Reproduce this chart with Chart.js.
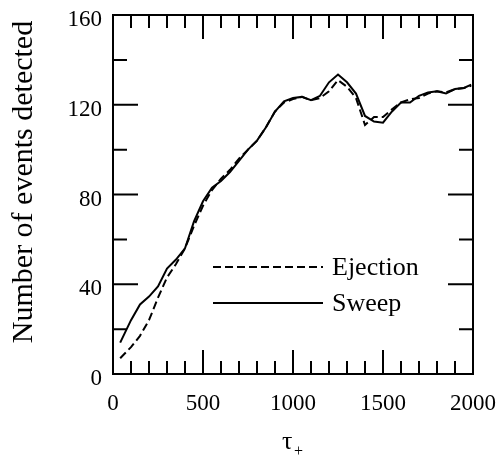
<!DOCTYPE html>
<html>
<head>
<meta charset="utf-8">
<script src="https://cdn.jsdelivr.net/npm/chart.js@4"></script>
<style>
  body { margin: 0; background: #fff; }
  #chart { display: block; }
</style>
</head>
<body>
<canvas id="chart" width="501" height="462"></canvas>
<script>
// tau+ values (x) shared by both curves
const taus = [40, 100, 150, 200, 250, 300, 350, 400, 450, 500,
              550, 600, 650, 700, 750, 800, 850, 900, 950, 1000,
              1050, 1100, 1150, 1200, 1250, 1300, 1350, 1400, 1450, 1500,
              1550, 1600, 1650, 1700, 1750, 1800, 1850, 1900, 1950, 1990];

// number of events detected
const ejection = [7, 12, 17, 24, 34, 43, 49, 56, 66, 75,
                  82, 87, 91, 96, 100, 104, 110, 117, 121, 122.5,
                  123.5, 122, 123, 126, 131, 128, 123, 111, 114.5, 114.5,
                  118, 121, 122.5, 123, 125, 126, 125.5, 127, 127.5, 128.5];

const sweep = [14, 24, 31, 34.5, 39, 47, 51, 56, 68, 77,
               83, 86, 90, 95, 100, 104, 110, 117, 121.5, 123,
               123.5, 122, 124, 130, 133.5, 130, 125, 115, 112.5, 112,
               117, 121, 121, 124, 125.5, 126, 125, 127, 127.5, 129];

const seriesNames = ['Ejection', 'Sweep'];
const xTicks = [0, 500, 1000, 1500, 2000];
const yTicks = [0, 40, 80, 120, 160];

// pick the first serif face that is really installed
function pickSerif() {
    const candidates = ['Liberation Serif', 'Tinos', 'Times New Roman', 'DejaVu Serif',
                        'Noto Serif', 'FreeSerif', 'Nimbus Roman', 'Times'];
    const c = document.createElement('canvas').getContext('2d');
    const sample = 'Number of events detected 0123456789';
    const widthOf = f => { c.font = '40px ' + f; return c.measureText(sample).width; };
    const mono = widthOf('monospace');
    const sans = widthOf('sans-serif');
    for (const name of candidates) {
        const w1 = widthOf('"' + name + '", monospace');
        const w2 = widthOf('"' + name + '", sans-serif');
        if (w1 !== mono || w2 !== sans) return '"' + name + '", serif';
    }
    return 'serif';
}

const serif = pickSerif();

function points(values) {
    return taus.map((t, i) => ({ x: t, y: values[i] }));
}

// inward ticks on all four sides, closed frame, legend and axis titles
const framePlugin = {
    id: 'frame',
    afterDraw(chart) {
        const ctx = chart.ctx;
        const xs = chart.scales.x;
        const ys = chart.scales.y;
        const a = chart.chartArea;
        ctx.save();
        ctx.strokeStyle = '#000';
        ctx.lineWidth = 2;
        ctx.strokeRect(a.left, a.top, a.right - a.left, a.bottom - a.top);

        ctx.beginPath();
        for (let v = 100; v < 2000; v += 100) {
            const px = xs.getPixelForValue(v);
            const len = v % 500 === 0 ? 24 : 13;
            ctx.moveTo(px, a.bottom); ctx.lineTo(px, a.bottom - len);
            ctx.moveTo(px, a.top); ctx.lineTo(px, a.top + len);
        }
        for (let v = 20; v < 160; v += 20) {
            const py = ys.getPixelForValue(v);
            const len = v % 40 === 0 ? 25 : 14;
            ctx.moveTo(a.left, py); ctx.lineTo(a.left + len, py);
            ctx.moveTo(a.right, py); ctx.lineTo(a.right - len, py);
        }
        ctx.stroke();

        // legend
        const rows = [{ y: 267, dash: [8, 4] }, { y: 303, dash: [] }];
        ctx.font = '26px ' + serif;
        ctx.fillStyle = '#000';
        ctx.textBaseline = 'middle';
        rows.forEach((r, i) => {
            ctx.beginPath();
            ctx.setLineDash(r.dash);
            ctx.lineWidth = 2;
            ctx.moveTo(213, r.y);
            ctx.lineTo(323, r.y);
            ctx.stroke();
            ctx.fillText(seriesNames[i], 332, r.y + 1);
        });
        ctx.setLineDash([]);

        // y title
        ctx.save();
        ctx.translate(24, 182);
        ctx.rotate(-Math.PI / 2);
        ctx.textAlign = 'center';
        ctx.font = '30px ' + serif;
        ctx.fillText('Number of events detected', 0, 0);
        ctx.restore();

        // x title: tau with subscript plus
        ctx.textAlign = 'left';
        ctx.font = '26px ' + serif;
        ctx.fillText('\u03c4', 282, 442);
        ctx.font = '16px ' + serif;
        ctx.fillText('+', 294, 452);
        ctx.restore();
    }
};

new Chart(document.getElementById('chart'), {
    type: 'line',
    data: {
        datasets: [
            {
                label: seriesNames[0],
                data: points(ejection),
                borderColor: '#000',
                borderWidth: 2,
                borderDash: [8, 4],
                pointRadius: 0,
                tension: 0,
                fill: false
            },
            {
                label: seriesNames[1],
                data: points(sweep),
                borderColor: '#000',
                borderWidth: 2,
                pointRadius: 0,
                tension: 0,
                fill: false
            }
        ]
    },
    options: {
        responsive: false,
        animation: false,
        devicePixelRatio: 1,
        layout: { padding: { top: 15, right: 28, left: 0, bottom: 0 } },
        plugins: { legend: { display: false }, tooltip: { enabled: false } },
        scales: {
            x: {
                type: 'linear',
                min: 0,
                max: 2000,
                afterBuildTicks: s => { s.ticks = xTicks.map(v => ({ value: v })); },
                afterFit: s => { s.height = 88; s.paddingLeft = 0; s.paddingRight = 0; },
                grid: { display: false, drawTicks: false },
                border: { display: false },
                ticks: {
                    color: '#000', font: { family: serif, size: 23 }, padding: 16, maxRotation: 0,
                    callback: v => String(v)
                }
            },
            y: {
                min: 0,
                max: 160,
                afterBuildTicks: s => { s.ticks = yTicks.map(v => ({ value: v })); },
                afterFit: s => { s.width = 113; s.paddingTop = 0; s.paddingBottom = 0; },
                grid: { display: false, drawTicks: false },
                border: { display: false },
                ticks: { color: '#000', font: { family: serif, size: 23 }, padding: 11, labelOffset: 5 }
            }
        }
    },
    plugins: [framePlugin]
});
</script>
</body>
</html>
